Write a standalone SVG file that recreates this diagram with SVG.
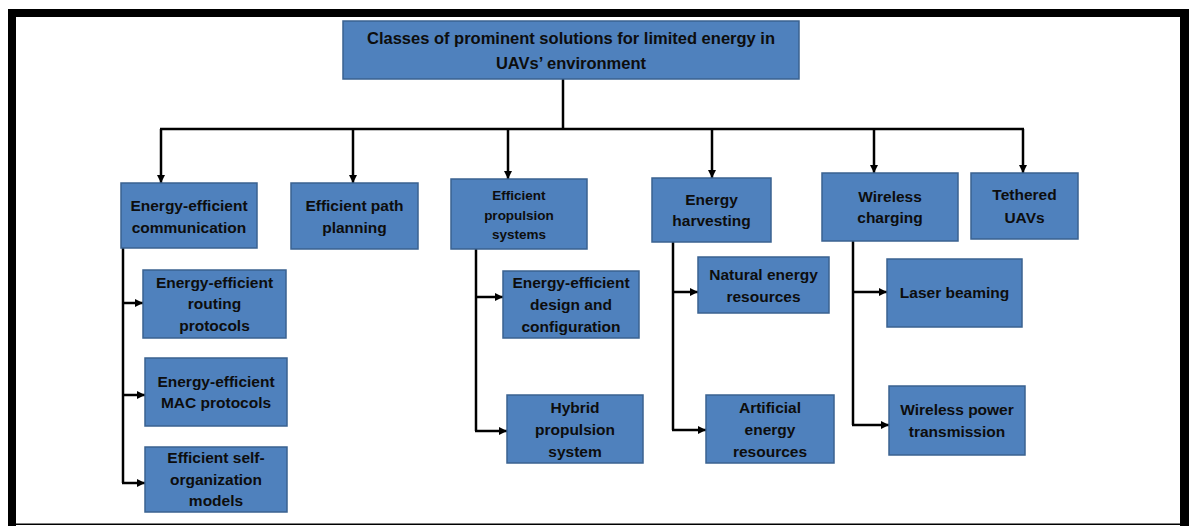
<svg xmlns="http://www.w3.org/2000/svg" width="1189" height="526" viewBox="0 0 1189 526">
  <style>
    .box { fill: #4F81BD; stroke: #3A6290; stroke-width: 1.5; }
    .t { font-family: "Liberation Sans", Arial, sans-serif; font-weight: bold; font-size: 15.5px; fill: #0d0d0d; text-anchor: middle; }
    .title { font-size: 16.5px; }
    .small { font-size: 13.5px; }
    .ln { fill: none; stroke: #000; stroke-width: 2.5; }
    .arr { fill: none; stroke: #000; stroke-width: 2.5; marker-end: url(#head); }
  </style>
  <defs>
    <marker id="head" viewBox="0 0 10 10" refX="10" refY="5" markerWidth="9" markerHeight="8" markerUnits="userSpaceOnUse" orient="auto">
      <path d="M0,0 L10,5 L0,10 Z" fill="#000"/>
    </marker>
  </defs>

  <!-- page frame -->
  <rect x="0" y="0" width="1189" height="526" fill="#fff"/>
  <rect x="12" y="13" width="1172.5" height="600" fill="none" stroke="#000" stroke-width="8"/>
  <rect x="8" y="523.5" width="1181" height="1.5" fill="#000"/>
  <rect x="1180" y="9" width="9" height="517" fill="#000"/>

  <!-- connectors -->
  <g id="connectors">
    <path class="ln" d="M563,79 V129"/>
    <path class="ln" d="M160,129 H1024"/>
    <path class="arr" d="M161,129 V183"/>
    <path class="arr" d="M353,129 V183"/>
    <path class="arr" d="M508,129 V179"/>
    <path class="arr" d="M712,129 V178"/>
    <path class="arr" d="M874,129 V173"/>
    <path class="arr" d="M1023,129 V173"/>

    <path class="ln" d="M123,248 V483"/>
    <path class="arr" d="M122,303 H143"/>
    <path class="arr" d="M122,395 H145"/>
    <path class="arr" d="M122,483 H145"/>

    <path class="ln" d="M476,249 V431"/>
    <path class="arr" d="M475,297 H503"/>
    <path class="arr" d="M475,431 H507"/>

    <path class="ln" d="M673,242 V430"/>
    <path class="arr" d="M672,292 H698"/>
    <path class="arr" d="M672,430 H706"/>

    <path class="ln" d="M853,241 V425"/>
    <path class="arr" d="M852,292 H887"/>
    <path class="arr" d="M852,425 H889"/>
  </g>

  <!-- root -->
  <g id="root">
    <rect class="box" x="343" y="21" width="456" height="58"/>
    <text class="t title" x="571" y="44">Classes of prominent solutions for limited energy in</text>
    <text class="t title" x="571" y="69">UAVs’ environment</text>
  </g>

  <!-- first level -->
  <g id="comm">
    <rect class="box" x="121" y="183" width="136" height="65"/>
    <text class="t" x="189" y="211">Energy-efficient</text>
    <text class="t" x="189" y="233">communication</text>
  </g>
  <g id="path-planning">
    <rect class="box" x="291" y="183" width="127" height="66"/>
    <text class="t" x="354.5" y="211">Efficient path</text>
    <text class="t" x="354.5" y="233">planning</text>
  </g>
  <g id="propulsion">
    <rect class="box" x="451" y="179" width="136" height="70"/>
    <text class="t small" x="519" y="200">Efficient</text>
    <text class="t small" x="519" y="220">propulsion</text>
    <text class="t small" x="519" y="239">systems</text>
  </g>
  <g id="harvesting">
    <rect class="box" x="652" y="178" width="119" height="64"/>
    <text class="t" x="711.5" y="205">Energy</text>
    <text class="t" x="711.5" y="226">harvesting</text>
  </g>
  <g id="wireless-charging">
    <rect class="box" x="822" y="173" width="136" height="68"/>
    <text class="t" x="890" y="202">Wireless</text>
    <text class="t" x="890" y="223">charging</text>
  </g>
  <g id="tethered">
    <rect class="box" x="971" y="173" width="107" height="66"/>
    <text class="t" x="1024.5" y="200">Tethered</text>
    <text class="t" x="1024.5" y="223">UAVs</text>
  </g>

  <!-- second level -->
  <g id="routing">
    <rect class="box" x="143" y="270" width="143" height="68"/>
    <text class="t" x="214.5" y="288">Energy-efficient</text>
    <text class="t" x="214.5" y="309">routing</text>
    <text class="t" x="214.5" y="331">protocols</text>
  </g>
  <g id="mac">
    <rect class="box" x="145" y="358" width="142" height="68"/>
    <text class="t" x="216" y="387">Energy-efficient</text>
    <text class="t" x="216" y="408">MAC protocols</text>
  </g>
  <g id="self-org">
    <rect class="box" x="145" y="447" width="142" height="65"/>
    <text class="t" x="216" y="463">Efficient self-</text>
    <text class="t" x="216" y="485">organization</text>
    <text class="t" x="216" y="506">models</text>
  </g>
  <g id="design">
    <rect class="box" x="503" y="271" width="136" height="67"/>
    <text class="t" x="571" y="288">Energy-efficient</text>
    <text class="t" x="571" y="310">design and</text>
    <text class="t" x="571" y="332">configuration</text>
  </g>
  <g id="hybrid">
    <rect class="box" x="507" y="395" width="136" height="68"/>
    <text class="t" x="575" y="413">Hybrid</text>
    <text class="t" x="575" y="435">propulsion</text>
    <text class="t" x="575" y="457">system</text>
  </g>
  <g id="natural">
    <rect class="box" x="698" y="257" width="131" height="56"/>
    <text class="t" x="763.5" y="280">Natural energy</text>
    <text class="t" x="763.5" y="302">resources</text>
  </g>
  <g id="artificial">
    <rect class="box" x="706" y="395" width="128" height="68"/>
    <text class="t" x="770" y="413">Artificial</text>
    <text class="t" x="770" y="435">energy</text>
    <text class="t" x="770" y="457">resources</text>
  </g>
  <g id="laser">
    <rect class="box" x="887" y="259" width="135" height="68"/>
    <text class="t" x="954.5" y="298">Laser beaming</text>
  </g>
  <g id="wpt">
    <rect class="box" x="889" y="386" width="136" height="69"/>
    <text class="t" x="957" y="415">Wireless power</text>
    <text class="t" x="957" y="437">transmission</text>
  </g>
</svg>
